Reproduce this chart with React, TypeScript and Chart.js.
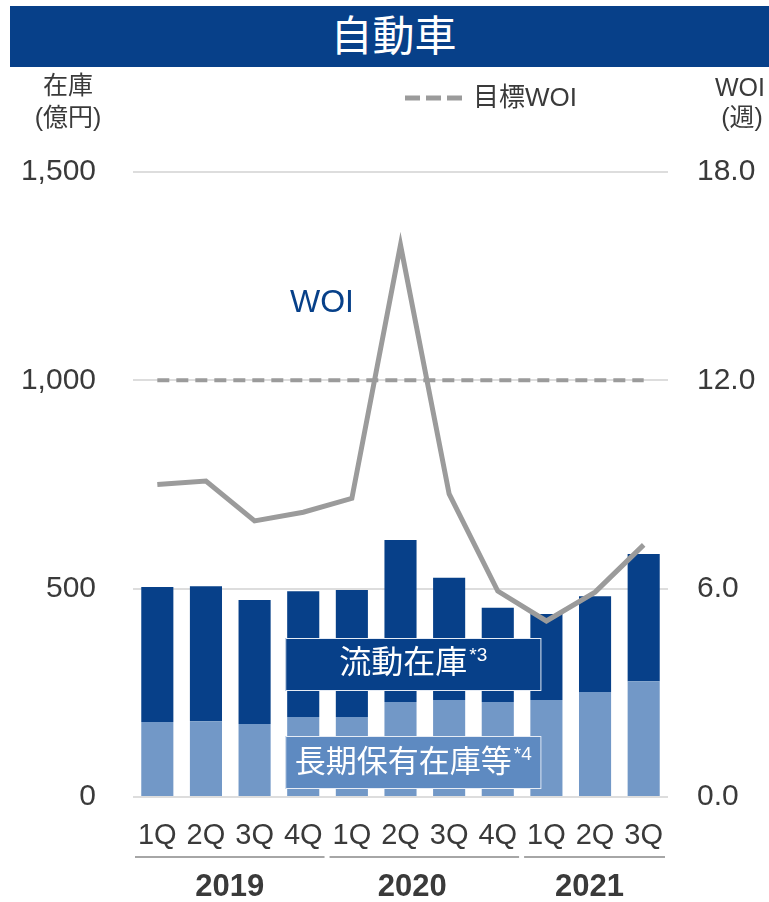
import React, { useEffect, useRef } from "react";
import { Chart, registerables } from "chart.js";

Chart.register(...registerables);

const quarters = ["1Q", "2Q", "3Q", "4Q", "1Q", "2Q", "3Q", "4Q", "1Q", "2Q", "3Q"];
const years = ["2019", "2020", "2021"];
const yearGroups = [
  [0, 3],
  [4, 7],
  [8, 10],
];
const longTermStock = [180, 182, 175, 192, 192, 228, 233, 228, 233, 252, 278];
const currentStock = [324, 324, 298, 302, 305, 389, 293, 226, 206, 230, 305];
const woiWeeks = [9.0, 9.1, 7.95, 8.2, 8.6, 15.9, 8.73, 5.93, 5.07, 5.9, 7.26];
const targetWoi = [12, 12, 12, 12, 12, 12, 12, 12, 12, 12, 12];
const leftTicks = [0, 500, 1000, 1500];
const rightTicks = [0, 6, 12, 18];

const DARK = "#074089";
const LIGHT = "#7298C7";
const BOX_LIGHT = "#5E8AC1";
const GRAY = "#9B9B9B";
const TEXT = "#3A3A3A";
const FONT = "'Liberation Sans', Arial, 'Noto Sans CJK JP', sans-serif";

function drawSup(ctx: CanvasRenderingContext2D, main: string, sup: string, cx: number, cy: number, size: number) {
  ctx.font = `${size}px ${FONT}`;
  const w1 = ctx.measureText(main).width;
  ctx.font = `${Math.round(size * 0.6)}px ${FONT}`;
  const w2 = ctx.measureText(sup).width;
  const x0 = cx - (w1 + w2 + 2) / 2;
  ctx.textAlign = "left";
  ctx.textBaseline = "middle";
  ctx.font = `${size}px ${FONT}`;
  ctx.fillText(main, x0, cy);
  ctx.font = `${Math.round(size * 0.6)}px ${FONT}`;
  ctx.fillText(sup, x0 + w1 + 2, cy - size * 0.25);
}

const overlayPlugin = {
  id: "overlay",
  afterDatasetsDraw(chart: any) {
    const ctx = chart.ctx as CanvasRenderingContext2D;
    const x = chart.scales.x;
    ctx.save();
    const bx0 = x.getPixelForValue(3) - 18;
    const bx1 = x.getPixelForValue(8) - 5;
    const drawBox = (top: number, bottom: number, fill: string) => {
      ctx.fillStyle = fill;
      ctx.fillRect(bx0, top, bx1 - bx0, bottom - top);
      ctx.strokeStyle = "#E6ECF5";
      ctx.lineWidth = 1;
      ctx.strokeRect(bx0 + 0.5, top + 0.5, bx1 - bx0 - 1, bottom - top - 1);
    };
    drawBox(638, 691, DARK);
    drawBox(736, 789, BOX_LIGHT);
    ctx.fillStyle = "#FFFFFF";
    drawSup(ctx, "流動在庫", "*3", (bx0 + bx1) / 2, 664, 32);
    drawSup(ctx, "長期保有在庫等", "*4", (bx0 + bx1) / 2, 763, 31);
    ctx.restore();
  },
  afterDraw(chart: any) {
    const ctx = chart.ctx as CanvasRenderingContext2D;
    const x = chart.scales.x;
    ctx.save();
    ctx.fillStyle = TEXT;
    ctx.textAlign = "center";
    ctx.textBaseline = "middle";
    ctx.font = `25px ${FONT}`;
    ctx.fillText("在庫", 68, 87);
    ctx.fillText("(億円)", 68, 119);
    ctx.fillText("WOI", 740, 89);
    ctx.fillText("(週)", 742, 119);

    // legend
    ctx.strokeStyle = GRAY;
    ctx.lineWidth = 5;
    ctx.setLineDash([15, 6]);
    ctx.beginPath();
    ctx.moveTo(405, 98);
    ctx.lineTo(467, 98);
    ctx.stroke();
    ctx.setLineDash([]);
    ctx.textAlign = "left";
    ctx.fillStyle = TEXT;
    ctx.font = `26px ${FONT}`;
    ctx.fillText("目標WOI", 473, 99);

    // WOI label
    ctx.textAlign = "center";
    ctx.fillStyle = DARK;
    ctx.font = `32px ${FONT}`;
    ctx.fillText("WOI", 322, 303);

    // year groups
    const half = (x.getPixelForValue(1) - x.getPixelForValue(0)) / 2;
    yearGroups.forEach((g, i) => {
      const l = x.getPixelForValue(g[0]) - half + 2;
      const r = x.getPixelForValue(g[1]) + half - 3;
      ctx.strokeStyle = "#A6A6A6";
      ctx.lineWidth = 2;
      ctx.beginPath();
      ctx.moveTo(l, 857);
      ctx.lineTo(r, 857);
      ctx.stroke();
      ctx.fillStyle = TEXT;
      ctx.font = `bold 31px ${FONT}`;
      ctx.textAlign = "center";
      ctx.fillText(years[i], (l + r) / 2 - (i === 1 ? 12 : i === 2 ? 5 : 0), 887);
    });
    ctx.restore();
  },
};

export default function App() {
  const ref = useRef<HTMLCanvasElement>(null);
  useEffect(() => {
    if (!ref.current) return;
    const chart = new Chart(ref.current, {
      type: "bar",
      data: {
        labels: quarters,
        datasets: [
          {
            type: "line",
            label: "目標WOI",
            data: targetWoi,
            yAxisID: "y1",
            borderColor: GRAY,
            borderWidth: 4,
            borderDash: [12, 7],
            pointRadius: 0,
            fill: false,
            order: 0,
          } as any,
          {
            type: "line",
            label: "WOI",
            data: woiWeeks,
            yAxisID: "y1",
            borderColor: GRAY,
            borderWidth: 5,
            pointRadius: 0,
            tension: 0,
            fill: false,
            order: 0,
          } as any,
          {
            label: "長期保有在庫等",
            data: longTermStock,
            backgroundColor: LIGHT,
            borderWidth: 0,
            yAxisID: "y",
            stack: "s",
            barPercentage: 0.66,
            categoryPercentage: 1,
            order: 1,
          },
          {
            label: "流動在庫",
            data: currentStock,
            backgroundColor: DARK,
            borderWidth: 0,
            yAxisID: "y",
            stack: "s",
            barPercentage: 0.66,
            categoryPercentage: 1,
            order: 1,
          },
        ],
      },
      options: {
        responsive: false,
        animation: false,
        devicePixelRatio: 1,
        layout: { padding: { top: 172, left: 0, right: 0, bottom: 0 } },
        plugins: { legend: { display: false }, tooltip: { enabled: false } },
        scales: {
          x: {
            stacked: true,
            grid: { display: false, drawTicks: false },
            border: { display: false },
            ticks: {
              autoSkip: false,
              maxRotation: 0,
              color: TEXT,
              font: { family: FONT, size: 29 },
              padding: 22,
            },
            afterFit: (s: any) => {
              s.height = 105;
            },
          },
          y: {
            stacked: true,
            position: "left",
            min: 0,
            max: 1500,
            afterBuildTicks: (s: any) => {
              s.ticks = leftTicks.map((v) => ({ value: v }));
            },
            grid: { color: "#DDDDDD", lineWidth: 2, drawTicks: false },
            border: { display: false },
            ticks: {
              color: TEXT,
              font: { family: FONT, size: 30 },
              padding: 37,
              callback: (v: any) => Number(v).toLocaleString("en-US"),
            },
            afterFit: (s: any) => {
              s.width = 133;
            },
          },
          y1: {
            position: "right",
            min: 0,
            max: 18,
            afterBuildTicks: (s: any) => {
              s.ticks = rightTicks.map((v) => ({ value: v }));
            },
            grid: { display: false, drawTicks: false },
            border: { display: false },
            ticks: {
              color: TEXT,
              font: { family: FONT, size: 30 },
              padding: 29,
              callback: (v: any) => Number(v).toFixed(1),
            },
            afterFit: (s: any) => {
              s.width = 101;
            },
          },
        },
      },
      plugins: [overlayPlugin],
    });
    return () => chart.destroy();
  }, []);

  return (
    <div style={{ position: "absolute", left: 0, top: 0, width: 769, height: 902, background: "#fff" }}>
      <canvas ref={ref} width={769} height={902} style={{ position: "absolute", left: 0, top: 0 }} />
      <div
        style={{
          position: "absolute",
          left: 10,
          top: 6,
          width: 759,
          height: 61,
          background: DARK,
          color: "#fff",
          fontFamily: FONT,
          fontSize: 42,
          lineHeight: "61px",
          textAlign: "center",
          paddingLeft: 8,
          boxSizing: "border-box",
        }}
      >
        自動車
      </div>
    </div>
  );
}
